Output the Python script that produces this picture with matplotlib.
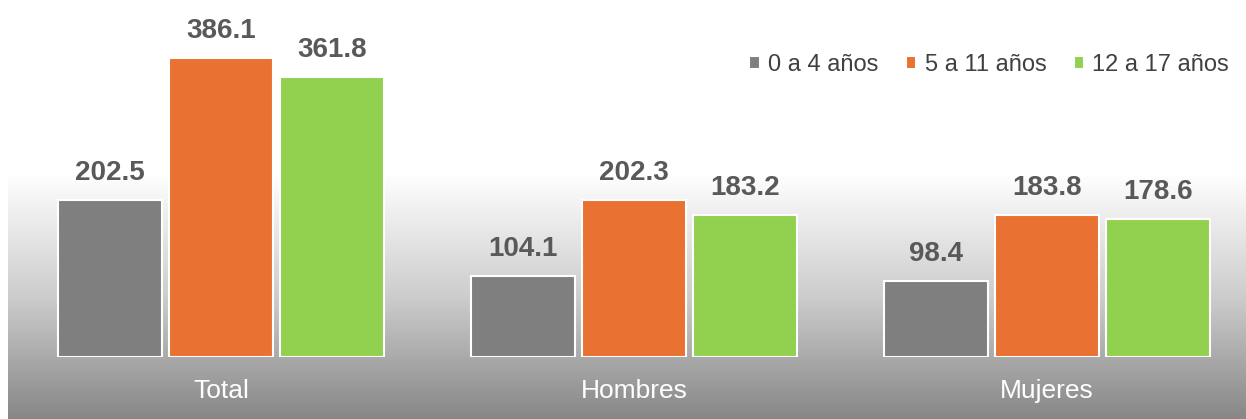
import numpy as np
import matplotlib
matplotlib.use("Agg")
import matplotlib.pyplot as plt
from matplotlib.colors import LinearSegmentedColormap

plt.rcParams['font.family'] = ['Liberation Sans', 'DejaVu Sans']

categories = ['Total', 'Hombres', 'Mujeres']
series_names = ['0 a 4 años', '5 a 11 años', '12 a 17 años']
edad_0_4 = [202.5, 104.1, 98.4]
edad_5_11 = [386.1, 202.3, 183.8]
edad_12_17 = [361.8, 183.2, 178.6]
colors = ['#7f7f7f', '#e97132', '#92d050']

fig = plt.figure(figsize=(12.46, 4.19), dpi=100)

# gradient background
bg = fig.add_axes([8 / 1246, 0, 1 - 8 / 1246, 245 / 419], zorder=0)
cmap = LinearSegmentedColormap.from_list('bg', ['#ffffff', '#cdcdcd', '#878787'])
grad = np.linspace(0, 1, 256).reshape(-1, 1)
bg.imshow(grad, aspect='auto', cmap=cmap, extent=[0, 1, 0, 1], origin='upper')
bg.axis('off')

ax = fig.add_axes([0, 62 / 419, 1, 357 / 419], zorder=1)
ax.patch.set_alpha(0)

x = np.arange(len(categories))
w = 104 / 413
step = 111 / 413
for i, (vals, name) in enumerate(zip([edad_0_4, edad_5_11, edad_12_17], series_names)):
    bars = ax.bar(x + (i - 1) * step, vals, w, color=colors[i], edgecolor='white',
                  linewidth=1.5, label=name)
    ax.bar_label(bars, labels=[f'{v:.1f}' for v in vals], padding=10,
                 fontsize=20, fontweight='bold', color='#595959')

ax.set_xlim(-221 / 413, (1246 - 221) / 413)
ax.set_ylim(0, 357 / 0.775)
ax.set_xticks(x, categories)
ax.tick_params(axis='x', length=0, pad=16, labelsize=19, labelcolor='white')
ax.set_yticks([])
for s in ax.spines.values():
    s.set_visible(False)

leg = ax.legend(loc='center right', bbox_to_anchor=(0.996, 0.818), ncol=3, frameon=False,
                fontsize=17, handlelength=0.45, handleheight=0.45, handletextpad=0.35,
                columnspacing=1.15, labelcolor='#404040', borderpad=0)

fig.savefig('out.png', dpi=100)
